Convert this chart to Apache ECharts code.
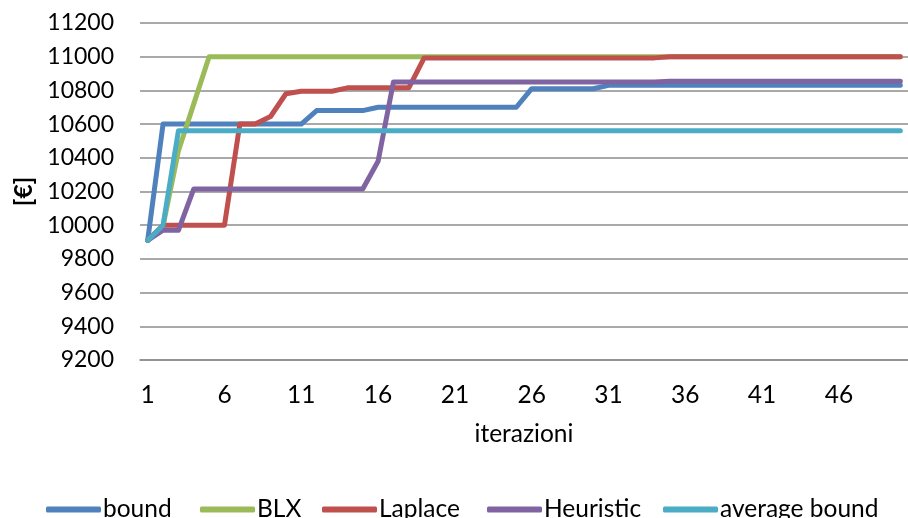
<!DOCTYPE html>
<html>
<head>
<meta charset="utf-8">
<script src="https://cdn.jsdelivr.net/npm/echarts@6/dist/echarts.min.js"></script>
<style>
  html, body { margin: 0; padding: 0; background: #fff; }
  #chart { width: 908px; height: 518px; }
</style>
</head>
<body>
<div id="chart"></div>
<script>
// Iteration numbers 1..50 on the category axis
const iterations = [
  1, 2, 3, 4, 5, 6, 7, 8, 9, 10,
  11, 12, 13, 14, 15, 16, 17, 18, 19, 20,
  21, 22, 23, 24, 25, 26, 27, 28, 29, 30,
  31, 32, 33, 34, 35, 36, 37, 38, 39, 40,
  41, 42, 43, 44, 45, 46, 47, 48, 49, 50
];

const seriesNames = ['bound', 'BLX', 'Laplace', 'Heuristic', 'average bound'];

const bound = [
  9910, 10600, 10600, 10600, 10600, 10600, 10600, 10600, 10600, 10600,
  10600, 10680, 10680, 10680, 10680, 10700, 10700, 10700, 10700, 10700,
  10700, 10700, 10700, 10700, 10700, 10810, 10810, 10810, 10810, 10810,
  10830, 10830, 10830, 10830, 10830, 10830, 10830, 10830, 10830, 10830,
  10830, 10830, 10830, 10830, 10830, 10830, 10830, 10830, 10830, 10830
];

const blx = [
  9910, 9995, 10440, 10720, 11000, 11000, 11000, 11000, 11000, 11000,
  11000, 11000, 11000, 11000, 11000, 11000, 11000, 11000, 11000, 11000,
  11000, 11000, 11000, 11000, 11000, 11000, 11000, 11000, 11000, 11000,
  11000, 11000, 11000, 11000, 11000, 11000, 11000, 11000, 11000, 11000,
  11000, 11000, 11000, 11000, 11000, 11000, 11000, 11000, 11000, 11000
];

const laplace = [
  9910, 10000, 10000, 10000, 10000, 10000, 10600, 10600, 10645, 10780,
  10795, 10795, 10795, 10815, 10815, 10815, 10815, 10815, 10993, 10993,
  10993, 10993, 10993, 10993, 10993, 10993, 10993, 10993, 10993, 10993,
  10993, 10993, 10993, 10993, 11000, 11000, 11000, 11000, 11000, 11000,
  11000, 11000, 11000, 11000, 11000, 11000, 11000, 11000, 11000, 11000
];

const heuristic = [
  9910, 9970, 9970, 10215, 10215, 10215, 10215, 10215, 10215, 10215,
  10215, 10215, 10215, 10215, 10215, 10380, 10850, 10850, 10850, 10850,
  10850, 10850, 10850, 10850, 10850, 10850, 10850, 10850, 10850, 10850,
  10850, 10850, 10850, 10850, 10855, 10855, 10855, 10855, 10855, 10855,
  10855, 10855, 10855, 10855, 10855, 10855, 10855, 10855, 10855, 10855
];

const averageBound = [
  9910, 10000, 10560, 10560, 10560, 10560, 10560, 10560, 10560, 10560,
  10560, 10560, 10560, 10560, 10560, 10560, 10560, 10560, 10560, 10560,
  10560, 10560, 10560, 10560, 10560, 10560, 10560, 10560, 10560, 10560,
  10560, 10560, 10560, 10560, 10560, 10560, 10560, 10560, 10560, 10560,
  10560, 10560, 10560, 10560, 10560, 10560, 10560, 10560, 10560, 10560
];

const seriesData = [bound, blx, laplace, heuristic, averageBound];
const colors = ['#4F81BD', '#9BBB59', '#C0504D', '#8064A2', '#4BACC6'];

const FONT = 'Lato';
const TEXT_SIZE = 24.5;

// Left edge of each legend entry along the bottom row
const legendLefts = [46, 200, 322, 487, 663];

const legends = seriesNames.map((name, i) => ({
  data: [name],
  left: legendLefts[i],
  top: 497,
  padding: 0,
  icon: 'roundRect',
  itemWidth: 55,
  itemHeight: 6,
  textStyle: { fontFamily: FONT, fontSize: TEXT_SIZE, color: '#000', padding: [0, 0, 0, -3] }
}));

const chart = echarts.init(document.getElementById('chart'), null, { renderer: 'canvas' });

chart.setOption({
  animation: false,
  backgroundColor: '#ffffff',
  color: colors,
  textStyle: { fontFamily: FONT, color: '#000' },
  grid: { left: 140, top: 23, width: 772, height: 337, containLabel: false },
  legend: legends,
  xAxis: {
    type: 'category',
    data: iterations,
    boundaryGap: true,
    name: 'iterazioni',
    nameLocation: 'middle',
    nameGap: 62,
    nameTextStyle: { fontFamily: FONT, fontSize: TEXT_SIZE, color: '#000' },
    axisLine: { show: true, lineStyle: { color: '#8C8C8C', width: 1.5 } },
    axisTick: { show: false },
    axisLabel: { interval: 4, margin: 23, fontSize: TEXT_SIZE, color: '#000', fontFamily: FONT },
    splitLine: { show: false }
  },
  yAxis: {
    type: 'value',
    min: 9200,
    max: 11200,
    interval: 200,
    name: '[€]',
    nameLocation: 'middle',
    nameGap: 96,
    nameRotate: 90,
    nameTextStyle: { fontFamily: FONT, fontSize: TEXT_SIZE, fontWeight: 'bold', color: '#000' },
    axisLine: { show: false },
    axisTick: { show: false },
    axisLabel: {
      margin: 26,
      fontSize: 23,
      color: '#000',
      fontFamily: FONT,
      formatter: (v) => String(v)
    },
    splitLine: { show: true, lineStyle: { color: '#8C8C8C', width: 1.5 } }
  },
  series: seriesNames.map((name, i) => ({
    name: name,
    type: 'line',
    data: seriesData[i],
    symbol: 'none',
    showSymbol: false,
    lineStyle: { width: 5, color: colors[i], cap: 'round', join: 'round' },
    itemStyle: { color: colors[i] },
    z: 2 + i
  }))
});
</script>
</body>
</html>
